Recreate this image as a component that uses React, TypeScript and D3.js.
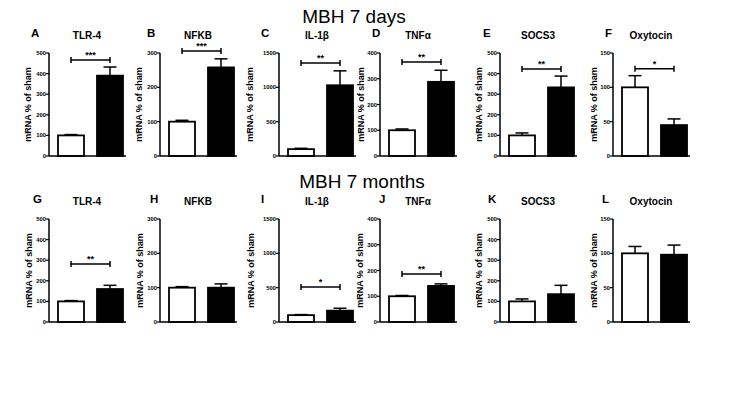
import * as d3 from "d3";

const genes = ["TLR-4", "NFKB", "IL-1β", "TNFα", "SOCS3", "Oxytocin"];
const yMaxes = [500, 300, 1500, 400, 500, 150];
const tickSteps = [100, 100, 500, 100, 100, 50];
const groups = ["sham", "MBH"];

const rowTitles = ["MBH 7 days", "MBH 7 months"];
const panelLetters = [
  ["A", "B", "C", "D", "E", "F"],
  ["G", "H", "I", "J", "K", "L"],
];

// [sham, MBH] means and SEM per gene
const days7Means = [[100, 390], [100, 258], [100, 1030], [100, 288], [100, 333], [100, 45]];
const days7Err = [[4, 42], [4, 25], [12, 210], [5, 45], [12, 55], [17, 9]];
const months7Means = [[100, 160], [100, 100], [100, 165], [100, 140], [100, 135], [100, 98]];
const months7Err = [[4, 18], [3, 11], [8, 35], [3, 8], [12, 43], [10, 14]];

// significance: [gene index, stars, bracket level]
const days7Sig: [number, string, number][] = [
  [0, "***", 466], [1, "***", 306], [2, "**", 1354], [3, "**", 365], [4, "**", 422], [5, "*", 127],
];
const months7Sig: [number, string, number][] = [[0, "**", 282], [2, "*", 510], [3, "**", 186]];

const rows = [
  { means: days7Means, errs: days7Err, sig: days7Sig },
  { means: months7Means, errs: months7Err, sig: months7Sig },
];

const axisX = [49, 160, 279, 380, 500, 613];
const rowTop = [53, 219];
const plotH = 103;
// the original figure isn't perfectly regular, so letters / y labels get their own offsets
const letterDx = [
  [-18, -13, -18, -8, -17, -8],
  [-16, -10, -18, -1, -12, -11],
];
const ylabDx = [
  [-18, -18, -26, -16, -18, -16],
  [-17, -17, -25, -17, -18, -16],
];
const FONT = "'Liberation Sans', Arial, sans-serif";

const xBand = d3.scaleBand<string>().domain(groups).range([9, 74]).paddingInner(1 / 3);

function Panel({ gi, ri }: { gi: number; ri: number }) {
  const row = rows[ri];
  const y = d3.scaleLinear().domain([0, yMaxes[gi]]).range([plotH, 0]);
  const ticks = d3.range(0, yMaxes[gi] + 1, tickSteps[gi]);
  const sig = row.sig.find((s) => s[0] === gi);
  const bw = xBand.bandwidth();
  return (
    <g transform={`translate(${axisX[gi]},${rowTop[ri]})`} fontFamily={FONT}>
      <text x={letterDx[ri][gi]} y={-16} fontSize={11.5} fontWeight="bold">{panelLetters[ri][gi]}</text>
      <text x={38} y={-14} fontSize={10} fontWeight="bold" textAnchor="middle">{genes[gi]}</text>
      <text
        transform={`translate(${ylabDx[ri][gi]},${plotH / 2}) rotate(-90)`}
        fontSize={9}
        fontWeight="bold"
        textAnchor="middle"
      >
        mRNA % of sham
      </text>
      {groups.map((g, k) => {
        const v = row.means[gi][k];
        const e = row.errs[gi][k];
        const cx = (xBand(g) ?? 0) + bw / 2;
        return (
          <g key={g}>
            <line x1={cx} x2={cx} y1={y(v)} y2={y(v + e)} stroke="#000" strokeWidth={1.5} />
            <line x1={cx - 6.5} x2={cx + 6.5} y1={y(v + e)} y2={y(v + e)} stroke="#000" strokeWidth={1.5} />
            <rect
              x={(xBand(g) ?? 0)}
              y={y(v)}
              width={bw}
              height={plotH - y(v)}
              fill={k === 0 ? "#fff" : "#000"}
              stroke="#000"
              strokeWidth={1.8}
            />
          </g>
        );
      })}
      <line x1={0} x2={77} y1={plotH} y2={plotH} stroke="#000" strokeWidth={1.5} />
      <line x1={0} x2={0} y1={0} y2={plotH} stroke="#000" strokeWidth={1.5} />
      {ticks.map((t) => (
        <g key={t} transform={`translate(0,${y(t)})`}>
          <line x1={-3} x2={0} stroke="#000" strokeWidth={1.2} />
          <text x={-3} dy="0.35em" fontSize={5.8} fontWeight="bold" textAnchor="end">{t}</text>
        </g>
      ))}
      {sig && (() => {
        const x1 = (xBand(groups[0]) ?? 0) + bw / 2;
        const x2 = (xBand(groups[1]) ?? 0) + bw / 2;
        const yy = y(sig[2]);
        return (
          <g stroke="#000" strokeWidth={1.5}>
            <line x1={x1} x2={x2} y1={yy} y2={yy} />
            <line x1={x1} x2={x1} y1={yy - 3} y2={yy + 3} />
            <line x1={x2} x2={x2} y1={yy - 3} y2={yy + 3} />
            <text x={(x1 + x2) / 2} y={yy - 2} stroke="none" fontSize={9} fontWeight="bold" textAnchor="middle">
              {sig[1]}
            </text>
          </g>
        );
      })()}
    </g>
  );
}

export default function App() {
  return (
    <svg width={742} height={396} style={{ position: "absolute", left: 0, top: 0, background: "#fff" }}>
      <rect width={742} height={396} fill="#fff" />
      <text x={354} y={23} fontFamily={FONT} fontSize={19} textAnchor="middle">{rowTitles[0]}</text>
      <text x={362} y={188} fontFamily={FONT} fontSize={19} textAnchor="middle">{rowTitles[1]}</text>
      {[0, 1].map((ri) => genes.map((_, gi) => <Panel key={`${ri}-${gi}`} gi={gi} ri={ri} />))}
    </svg>
  );
}
